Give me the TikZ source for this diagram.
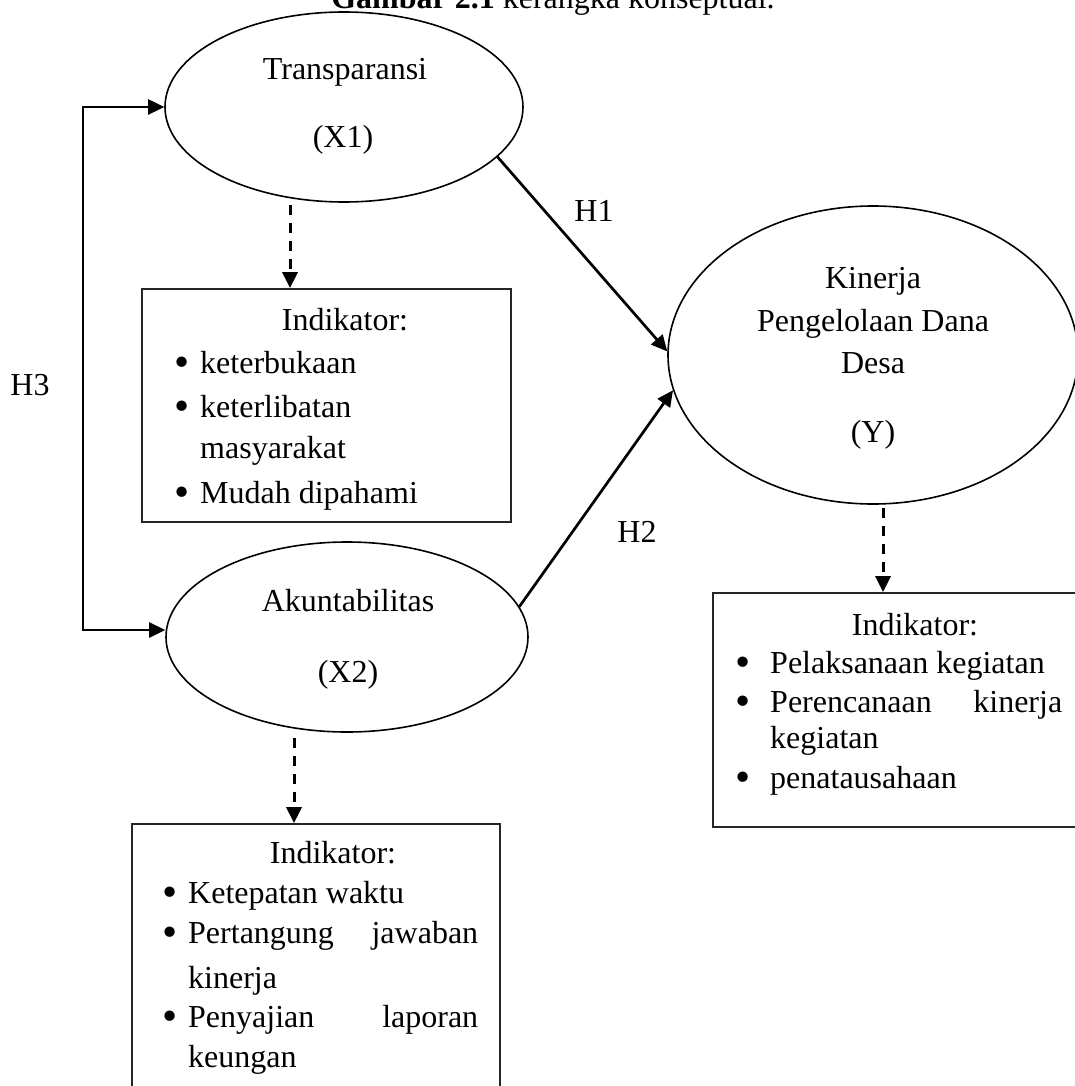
\documentclass[tikz,border=0pt]{standalone}
\usepackage{fontspec}
\setmainfont{Liberation Serif}
\usetikzlibrary{arrows.meta,shapes.geometric}
\newcommand\bulw[1]{\makebox[#1][l]{\raisebox{-3.5pt}{\scalebox{1.35}{\textbullet}}}}
\begin{document}
\begin{tikzpicture}[x=1pt,y=-1pt,
  every node/.style={font=\fontsize{32}{40}\selectfont, inner sep=0pt},
  lbl/.style={anchor=base},
  item/.style={anchor=base west},
  oval/.style={draw, ellipse, line width=1.6pt, inner sep=0pt},
  indbox/.style={draw=black!85, line width=1.7pt, rectangle, inner sep=0pt},
  tip/.style={-{Triangle[length=16pt,width=15pt]}},
  solidarr/.style={line width=2.7pt, tip},
  dasharr/.style={line width=3pt, dash pattern=on 10pt off 8pt, tip},
]
\useasboundingbox (0,0) rectangle (1075,1086);
\clip (0,0) rectangle (1075,1086);

% title (cut at the top in the reference)
\node[lbl] (title) at (553,9) {\textbf{Gambar 2.1} kerangka konseptual.};

% ellipses
\node[oval, minimum width=358pt, minimum height=190pt] (x1) at (344,107) {};
\node[oval, minimum width=362pt, minimum height=190pt] (x2) at (347,637) {};
\node[oval, minimum width=410pt, minimum height=298pt] (y) at (873,355) {};

\node[lbl] (t1a) at (345,80) {Transparansi};
\node[lbl] (t1b) at (343,148) {(X1)};
\node[lbl] (t2a) at (348,611) {Akuntabilitas};
\node[lbl] (t2b) at (348,682) {(X2)};
\node[lbl] (ty1) at (873,288) {Kinerja};
\node[lbl] (ty2) at (873,331) {Pengelolaan Dana};
\node[lbl] (ty3) at (873,373) {Desa};
\node[lbl] (ty4) at (873,442) {(Y)};

% indicator boxes
\node[indbox, minimum width=369pt, minimum height=233pt] (b1) at (326.5,405.5) {};
\node[indbox, minimum width=368pt, minimum height=286pt] (b2) at (316,967) {};
\node[indbox, minimum width=372pt, minimum height=234pt] (by) at (899,710) {};

% box 1 text
\node[lbl] (b1h) at (345,330) {Indikator:};
\node[item] (b1i1) at (174,373) {\bulw{26pt}keterbukaan};
\node[item] (b1i2) at (174,417) {\bulw{26pt}keterlibatan};
\node[item] (b1i3) at (200,458) {masyarakat};
\node[item] (b1i4) at (174,503) {\bulw{26pt}Mudah dipahami};

% box Y text
\node[lbl] (byh) at (915,635) {Indikator:};
\node[item] (byi1) at (735,673) {\bulw{35pt}Pelaksanaan kegiatan};
\node[item] (byi2) at (735,712) {\bulw{35pt}\hbox to 292pt{Perencanaan\hfill kinerja}};
\node[item] (byi3) at (770,748) {kegiatan};
\node[item] (byi4) at (735,788) {\bulw{35pt}penatausahaan};

% box X2 text
\node[lbl] (b2h) at (333,863) {Indikator:};
\node[item] (b2i1) at (162,903) {\bulw{26pt}Ketepatan waktu};
\node[item] (b2i2) at (162,943) {\bulw{26pt}\hbox to 290pt{Pertangung\hfill jawaban}};
\node[item] (b2i3) at (188,988) {kinerja};
\node[item] (b2i4) at (162,1027) {\bulw{26pt}\hbox to 290pt{Penyajian\hfill laporan}};
\node[item] (b2i5) at (188,1067) {keungan};

% hypothesis labels
\node[lbl] (h1) at (594,222) {H1};
\node[lbl] (h2) at (637,542) {H2};
\node[lbl] (h3) at (30,395) {H3};

% connectors
\draw[solidarr] (x1.-18) -- (y.179);
\draw[solidarr] (x2.10) -- (y.190);
\coordinate (h3t) at (83,107);
\coordinate (h3b) at (83,630);
\draw[line width=2.7pt, {Triangle[length=16pt,width=15pt]}-{Triangle[length=16pt,width=15pt]}]
  (x1.west) -- (h3t) -- (h3b) -- (h3b -| x2.west);

\coordinate (d1) at (290,205);
\coordinate (d2) at (294,738);
\coordinate (d3) at (883,508);
\draw[dasharr] (d1) -- (d1 |- b1.north);
\draw[dasharr] (d2) -- (d2 |- b2.north);
\draw[dasharr] (d3) -- (d3 |- by.north);
\end{tikzpicture}
\end{document}
